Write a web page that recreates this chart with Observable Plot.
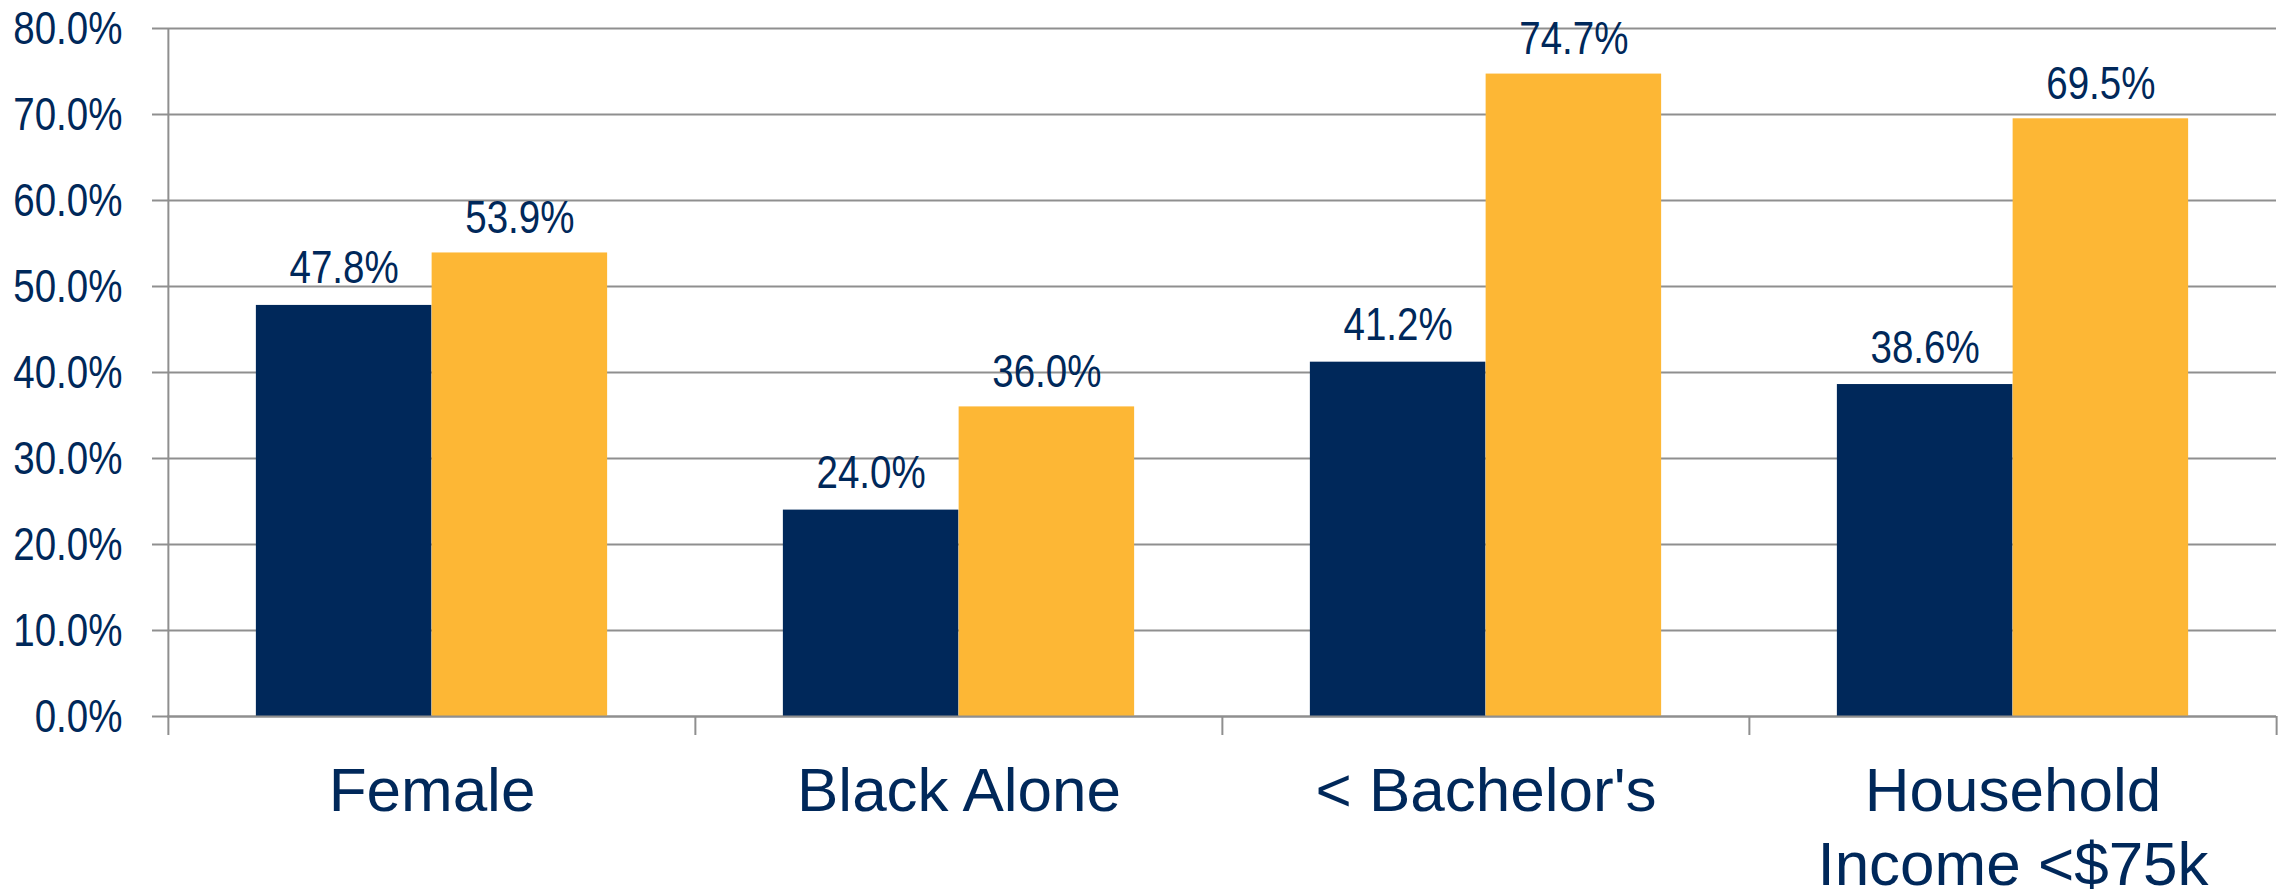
<!DOCTYPE html>
<html>
<head>
<meta charset="utf-8">
<script src="https://cdn.jsdelivr.net/npm/d3@7"></script>
<script src="https://cdn.jsdelivr.net/npm/@observablehq/plot@0.6"></script>
<style>
  html, body { margin: 0; padding: 0; background: #fff; }
  #chart svg { display: block; }
</style>
</head>
<body>
<div id="chart"></div>
<script>
// ---- Data ----
const categories = ["Female", "Black Alone", "< Bachelor's", "Household\nIncome <$75k"];
const seriesNames = ["Series 1", "Series 2"];
const series1Values = [47.8, 24.0, 41.2, 38.6];
const series2Values = [53.9, 36.0, 74.7, 69.5];
const yTicks = [0, 10, 20, 30, 40, 50, 60, 70, 80];

// ---- Styles ----
const navy = "#00285A";
const orange = "#FDB735";
const gray = "#8F8F8F";
const regularFont = "'Liberation Sans', Arial, sans-serif";
const narrowSize = 47;      // number labels use a condensed face
const narrowScale = 0.82;   // horizontal condensation of the number labels

const W = 2285, H = 893;
const mL = 167, mR = 9, mT = 28, mB = 177;
const bandW = (W - mL - mR) / categories.length;
const barW = bandW / 3;
const pad = bandW / 6;

const rows1 = categories.map((c, i) => ({category: c, series: seriesNames[0], value: series1Values[i]}));
const rows2 = categories.map((c, i) => ({category: c, series: seriesNames[1], value: series2Values[i]}));
const fmt = d => d.value.toFixed(1) + "%";

const chart = Plot.plot({
  width: W,
  height: H,
  marginLeft: mL,
  marginRight: mR,
  marginTop: mT,
  marginBottom: mB,
  style: {fontFamily: regularFont, background: "#fff"},
  x: {domain: categories, padding: 0},
  y: {domain: [0, 80]},
  marks: [
    // gridlines
    Plot.ruleY(yTicks, {stroke: gray, strokeWidth: 2}),
    // bars
    Plot.barY(rows1, {x: "category", y: "value", fill: navy, insetLeft: pad, insetRight: bandW - pad - barW}),
    Plot.barY(rows2, {x: "category", y: "value", fill: orange, insetLeft: pad + barW, insetRight: pad}),
    // baseline
    Plot.ruleY([0], {stroke: gray, strokeWidth: 2}),
    // left axis line
    Plot.ruleX([categories[0]], {dx: -bandW / 2, y1: 0, y2: 80, stroke: gray, strokeWidth: 2}),
    // category boundary ticks
    Plot.ruleX(categories, {dx: -bandW / 2, y1: 0, y2: 0, insetBottom: -19, stroke: gray, strokeWidth: 2}),
    Plot.ruleX([categories[categories.length - 1]], {dx: bandW / 2, y1: 0, y2: 0, insetBottom: -19, stroke: gray, strokeWidth: 2}),
    // value labels
    Plot.text(rows1, {x: "category", y: "value", text: fmt, dx: -bandW / 6, dy: -22, lineAnchor: "bottom",
      fill: navy, fontSize: narrowSize}),
    Plot.text(rows2, {x: "category", y: "value", text: fmt, dx: bandW / 6, dy: -20, lineAnchor: "bottom",
      fill: navy, fontSize: narrowSize}),
    // axes
    Plot.axisY({ticks: yTicks, tickFormat: d => d.toFixed(1) + "%", tickSize: 15, tickPadding: 30,
      stroke: gray, strokeWidth: 2, fill: navy, fontSize: narrowSize, label: null}),
    Plot.axisX({tickSize: 0, tickPadding: 42, fill: navy, fontSize: 62, lineHeight: 1.19, label: null})
  ]
});

// condense the number labels horizontally (narrow face look)
d3.select(chart).selectAll(`g[font-size='${narrowSize}'] text`).each(function() {
  const t = d3.select(this);
  let tr = t.attr("transform");
  if (!tr) {
    const x = +t.attr("x") || 0, y = +t.attr("y") || 0;
    t.attr("x", null).attr("y", null);
    tr = `translate(${x},${y})`;
  }
  t.attr("transform", tr + ` scale(${narrowScale},1)`);
});

document.getElementById("chart").appendChild(chart);
</script>
</body>
</html>
